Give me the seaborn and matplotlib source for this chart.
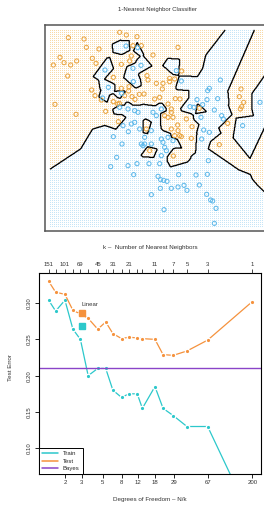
import numpy as np
import pandas as pd
import matplotlib
matplotlib.use('Agg')
import matplotlib.pyplot as plt
from matplotlib.colors import to_rgba
from matplotlib.lines import Line2D
import seaborn as sns

# --- top panel: training points (units of 0.01, y down) ---
orange_pts = [
    (205, 113), (252, 117), (259, 142), (297, 147), (180, 172), (192, 188), (212, 195),
    (230, 183), (160, 195), (277, 175), (288, 190), (203, 228), (340, 232), (275, 270),
    (359, 97), (379, 105), (411, 110), (399, 137), (424, 137), (459, 165), (364, 193),
    (389, 183), (394, 168), (441, 227), (444, 240), (469, 250), (489, 250), (509, 235),
    (509, 245), (524, 237), (364, 265), (387, 260), (386, 273), (545, 213), (534, 142),
    (285, 287), (304, 300), (396, 290), (418, 283), (432, 282), (405, 298), (374, 287),
    (358, 310), (353, 312), (340, 305), (317, 334), (228, 343), (165, 313), (464, 297),
    (479, 292), (504, 312), (514, 327), (494, 347), (504, 352), (519, 352), (514, 337),
    (526, 296), (540, 297), (487, 267), (559, 357), (576, 380), (534, 392), (539, 407),
    (544, 410), (524, 407), (514, 387), (574, 415), (598, 325), (439, 387), (449, 452),
    (520, 468), (355, 365), (658, 434), (683, 370), (723, 267), (718, 290), (731, 307),
    (725, 320), (721, 327), (533, 375), (840, 430),
]
blue_pts = [
    (315, 210), (325, 262), (378, 138), (413, 143), (399, 205), (423, 196), (400, 245),
    (308, 294), (365, 280), (359, 322), (384, 327), (404, 332), (414, 337), (459, 337),
    (469, 347), (484, 327), (369, 377), (394, 372), (404, 367), (419, 387), (434, 412),
    (454, 392), (424, 432), (429, 437), (434, 432), (454, 432), (484, 417), (489, 427),
    (504, 412), (519, 422), (494, 442), (499, 452), (484, 467), (340, 410), (366, 432),
    (385, 395), (529, 212), (544, 243), (591, 299), (621, 299), (653, 296), (608, 314),
    (643, 330), (665, 347), (670, 357), (603, 352), (611, 390), (628, 397), (605, 417),
    (728, 377), (625, 482), (661, 240), (628, 265), (623, 272), (570, 320), (582, 322),
    (780, 307), (384, 497), (411, 491), (447, 491), (479, 491), (401, 524), (474, 529),
    (482, 539), (491, 541), (501, 544), (536, 524), (481, 565), (514, 565), (534, 561),
    (552, 556), (561, 571), (454, 584), (492, 629), (332, 500), (350, 472), (588, 525),
    (598, 555), (620, 583), (632, 600), (638, 603), (648, 625), (643, 670), (622, 523),
]

# --- bottom panel: error curves ---
k_values = [151, 127, 101, 83, 69, 57, 45, 37, 31, 25, 21, 17, 15, 11, 9, 7, 5, 3, 1]
train_err = [0.304, 0.289, 0.304, 0.264, 0.250, 0.200, 0.210, 0.210, 0.180, 0.170,
             0.175, 0.175, 0.155, 0.185, 0.155, 0.145, 0.130, 0.130, 0.000]
test_err = [0.330, 0.315, 0.312, 0.290, 0.285, 0.279, 0.264, 0.274, 0.258, 0.251,
            0.253, 0.252, 0.251, 0.250, 0.229, 0.228, 0.234, 0.249, 0.302]
k_labels = [151, 101, 69, 45, 31, 21, 11, 7, 5, 3, 1]
dof_ticks = [2, 3, 5, 8, 12, 18, 29, 67, 200]
bayes_err = 0.21
linear_train, linear_test = 0.269, 0.286
N = 200

ORANGE = '#E9A23B'
BLUE = '#5AB7EA'
DOT_ORANGE = '#F8DAA8'
DOT_BLUE = '#C6E5F7'
C_TRAIN = '#2CC8CB'
C_TEST = '#F5923D'
C_BAYES = '#8A44C8'

sns.set_theme(style='white')
plt.rcParams['font.family'] = ['Liberation Sans', 'DejaVu Sans']
plt.rcParams['axes.linewidth'] = 0.8

fig = plt.figure(figsize=(2.64, 5.05), dpi=100)
W, H = 264, 505


def box(l, t, r, b):
    return [l / W, 1 - b / H, (r - l) / W, (b - t) / H]


# ================= 1-NN classifier =================
pts = pd.DataFrame(orange_pts + blue_pts, columns=['x1', 'x2'])
pts['cls'] = [1] * len(orange_pts) + [0] * len(blue_pts)
pts['x1'] = pts['x1'] / 100
pts['x2'] = (720 - pts['x2']) / 100
P = pts[['x1', 'x2']].to_numpy()


def nn_label(gx, gy):
    d = (gx.ravel()[:, None] - P[:, 0]) ** 2 + (gy.ravel()[:, None] - P[:, 1]) ** 2
    return pts['cls'].to_numpy()[d.argmin(axis=1)].reshape(gx.shape)


XLIM, YLIM = (1.35, 8.07), (0.27, 6.45)
ax = fig.add_axes(box(45, 25, 269, 231))

# dotted background: one pixel (0.03 units) dots on every other pixel
nrow, ncol = 206, 224
cc, rr = np.meshgrid(np.arange(ncol), np.arange(nrow))
cx = XLIM[0] + 0.03 * (cc + 0.5)
cy = YLIM[1] - 0.03 * (rr + 0.5)
lab = nn_label(cx, cy)
on = (cc % 2 == 1) & (rr % 2 == 1) & (cc >= 5) & (rr >= 5) & (rr <= 201)
img = np.zeros((nrow, ncol, 4))
img[on & (lab == 1)] = to_rgba(DOT_ORANGE)
img[on & (lab == 0)] = to_rgba(DOT_BLUE)
ax.imshow(img, extent=(XLIM[0], XLIM[1], YLIM[0], YLIM[1]), origin='upper',
          interpolation='nearest', aspect='auto', zorder=1)

fx = np.linspace(1.50, 7.95, 420)
fy = np.linspace(0.40, 6.30, 400)
fgx, fgy = np.meshgrid(fx, fy)
ax.contour(fgx, fgy, nn_label(fgx, fgy), levels=[0.5], colors='black',
           linewidths=0.9, zorder=2)

for cls, col in [(1, ORANGE), (0, BLUE)]:
    sub = pts[pts['cls'] == cls]
    sns.scatterplot(data=sub, x='x1', y='x2', ax=ax, s=9, color=col,
                    facecolors='none', edgecolor=col, linewidth=0.7, zorder=3)

ax.set_xlim(*XLIM)
ax.set_ylim(*YLIM)
ax.set_xticks([])
ax.set_yticks([])
ax.set_xlabel('')
ax.set_ylabel('')
for sp in ax.spines.values():
    sp.set_color('#555555')
    sp.set_linewidth(1.1)
fig.text(157 / W, 1 - 10 / H, '1-Nearest Neighbor Classifier', ha='center', va='center',
         fontsize=4.3, color='#333333')

# ================= error curves =================
err = pd.DataFrame({'k': k_values, 'train': train_err, 'test': test_err})
err['dof'] = N / err['k']

ax2 = fig.add_axes(box(39, 273, 261, 474))
ax2.set_xscale('log')
sns.lineplot(data=err, x='dof', y='train', ax=ax2, color=C_TRAIN, lw=0.9, marker='o',
             markersize=3.2, markeredgecolor='white', markeredgewidth=0.9, sort=True)
sns.lineplot(data=err, x='dof', y='test', ax=ax2, color=C_TEST, lw=0.9, marker='o',
             markersize=3.2, markeredgecolor='white', markeredgewidth=0.9, sort=True)
ax2.axhline(bayes_err, color=C_BAYES, lw=1.0)
ax2.plot([3], [linear_test], marker='s', ms=4, color=C_TEST, ls='none')
ax2.plot([3], [linear_train], marker='s', ms=4, color=C_TRAIN, ls='none')
ax2.text(2.95, 0.2985, 'Linear', fontsize=4.3, ha='left', va='center', color='#333333')

ax2.set_xlim(1.045, 248)
ax2.set_ylim(0.0646, 0.3414)
ax2.set_xticks(dof_ticks)
ax2.set_xticklabels([str(v) for v in dof_ticks])
ax2.minorticks_off()
ax2.set_yticks([0.10, 0.15, 0.20, 0.25, 0.30])
ax2.set_yticklabels(['0.10', '0.15', '0.20', '0.25', '0.30'])
ax2.tick_params(axis='both', direction='out', length=3, width=0.6, labelsize=4.3,
                colors='black', labelcolor='#333333', pad=1.5, bottom=True, left=True)
for t in ax2.get_yticklabels():
    t.set_rotation(90)
    t.set_va('center')
ax2.tick_params(axis='y', pad=2.5)
ax2.set_xlabel('')
ax2.set_ylabel('')
for sp in ax2.spines.values():
    sp.set_color('black')
    sp.set_linewidth(0.8)

top = ax2.twiny()
top.set_xscale('log')
top.set_xlim(ax2.get_xlim())
top.set_xticks([N / k for k in k_values])
top.set_xticklabels([str(k) if k in k_labels else '' for k in k_values])
top.minorticks_off()
top.tick_params(axis='x', direction='out', length=3, width=0.6, labelsize=4.3,
                labelcolor='#333333', pad=1.5, top=True)
for sp in top.spines.values():
    sp.set_visible(False)

handles = [Line2D([], [], color=C_TRAIN, lw=1.1),
           Line2D([], [], color=C_TEST, lw=1.1),
           Line2D([], [], color=C_BAYES, lw=1.1)]
leg = ax2.legend(handles, ['Train', 'Test', 'Bayes'], loc='lower left', fontsize=4.3,
                 borderaxespad=0, fancybox=False, framealpha=1, edgecolor='black',
                 handlelength=2.6, handletextpad=0.9, labelspacing=0.35,
                 borderpad=0.5)
leg.get_frame().set_linewidth(0.7)

fig.text(150 / W, 1 - 247 / H, 'k \u2013  Number of Nearest Neighbors', ha='center',
         va='center', fontsize=4.5, color='#333333')
fig.text(150 / W, 1 - 500 / H, 'Degrees of Freedom \u2013 N/k', ha='center',
         va='center', fontsize=4.5, color='#333333')
fig.text(10 / W, 1 - 368 / H, 'Test Error', ha='center', va='center', rotation=90,
         fontsize=4.5, color='#333333')

fig.savefig('out.png', dpi=100)
